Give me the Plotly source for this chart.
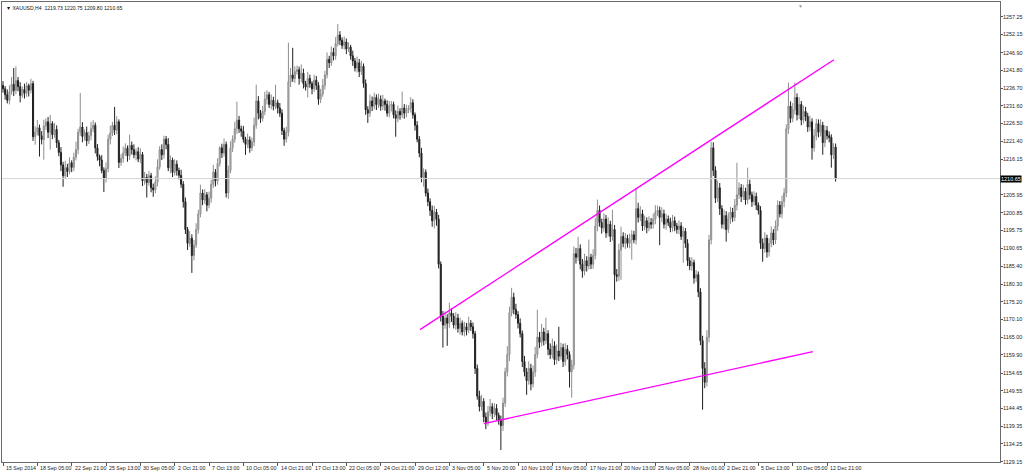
import plotly.graph_objects as go

# XAUUSD H4 closes (oldest first)
closes = [
    1236.5, 1234.8, 1233.2, 1235.6, 1237.8, 1236.0, 1238.9, 1237.1, 1234.6, 1236.3,
    1235.2, 1237.4, 1236.1, 1238.0, 1222.7, 1224.1, 1225.3, 1223.0, 1221.9, 1225.8,
    1227.0, 1224.0, 1226.5, 1223.3, 1224.8, 1221.0, 1218.2, 1214.6, 1211.5, 1213.8,
    1212.7, 1215.2, 1213.9, 1216.8, 1219.0, 1224.0, 1225.5, 1222.8, 1223.9, 1221.5,
    1223.0, 1225.0, 1226.0, 1219.5, 1217.0, 1216.0, 1213.0, 1210.8, 1213.5, 1222.0,
    1223.8, 1226.0, 1224.6, 1227.0, 1215.3, 1216.5, 1218.0, 1219.4, 1217.2, 1220.2,
    1219.0, 1217.5, 1218.4, 1216.3, 1217.6, 1210.0, 1211.0, 1209.5, 1211.5, 1208.0,
    1207.4, 1209.6, 1214.0, 1219.0, 1217.5, 1222.0, 1220.5, 1213.8, 1216.0, 1212.4,
    1214.8, 1213.0, 1211.6, 1209.0, 1204.0, 1196.0, 1192.0, 1193.5, 1188.5, 1191.5,
    1196.0, 1200.5, 1206.5, 1204.5, 1206.0, 1203.0, 1205.0, 1209.0, 1212.5, 1210.0,
    1215.0, 1219.5, 1218.0, 1220.5, 1206.5, 1213.0, 1219.5, 1222.0, 1225.0, 1227.5,
    1225.0, 1224.3, 1222.0, 1220.5, 1221.8, 1219.5, 1221.2, 1226.0, 1233.0, 1229.5,
    1228.0, 1230.0, 1233.5, 1234.8, 1232.0, 1233.2, 1231.5, 1232.5, 1231.0, 1229.5,
    1224.5, 1222.0, 1224.0, 1238.5, 1240.5, 1239.5, 1241.5, 1242.0, 1239.5, 1241.0,
    1238.0, 1237.0, 1239.5, 1238.0, 1236.5, 1239.0, 1237.5, 1233.5, 1235.0, 1237.5,
    1240.5, 1245.0, 1244.0, 1247.0, 1246.0, 1249.5, 1252.0, 1250.5, 1249.0, 1250.0,
    1248.0, 1248.5, 1246.0, 1244.5, 1242.5, 1244.0, 1241.5, 1243.0, 1238.0, 1230.5,
    1229.5, 1233.0, 1231.5, 1234.0, 1232.0, 1233.5, 1231.5, 1233.0, 1232.0, 1229.5,
    1231.5, 1232.0, 1229.0, 1228.0, 1230.0, 1229.0, 1231.0, 1229.5, 1230.5, 1231.0,
    1232.5, 1229.0, 1226.0, 1222.0, 1218.0, 1211.0, 1212.5, 1206.5, 1204.0, 1201.5,
    1198.5, 1201.0, 1199.0, 1186.0, 1171.0, 1168.5, 1170.5, 1169.0, 1172.0, 1171.0,
    1168.5, 1170.5, 1167.5, 1169.0, 1166.5, 1168.0, 1167.0, 1169.0, 1168.0, 1166.0,
    1156.0, 1148.0, 1145.0, 1146.5, 1142.0, 1140.5, 1143.5, 1145.0, 1143.0, 1144.5,
    1142.5, 1141.0, 1139.5, 1146.0, 1155.0, 1160.0, 1172.0, 1176.5, 1173.0, 1171.5,
    1169.0, 1166.0, 1158.0, 1155.0, 1152.5, 1156.0, 1151.5, 1155.0, 1160.0, 1165.0,
    1163.5, 1166.5, 1164.0, 1166.0, 1161.5, 1160.0, 1162.5, 1158.5, 1161.0, 1159.5,
    1162.0, 1158.0, 1161.5, 1160.0, 1155.0, 1157.0, 1189.0, 1188.0, 1190.5, 1186.0,
    1184.0, 1187.0, 1185.5, 1188.0, 1186.0, 1188.5, 1197.0, 1201.5, 1198.0, 1196.5,
    1199.0, 1195.0, 1197.5, 1194.0, 1196.0, 1183.0, 1182.5, 1190.0, 1194.0, 1192.0,
    1193.5, 1192.0, 1193.0, 1194.5, 1193.0, 1202.0, 1199.5, 1200.5, 1197.0, 1198.5,
    1196.5, 1198.0, 1197.5, 1199.0, 1201.0, 1201.5, 1199.5, 1200.5, 1197.5, 1199.0,
    1198.0, 1196.5, 1198.5, 1197.0, 1196.0, 1197.0, 1194.0, 1195.5, 1192.0, 1187.0,
    1185.5, 1186.5, 1182.0, 1183.0, 1178.0, 1164.0, 1156.0, 1152.0, 1165.0, 1193.0,
    1219.5, 1213.0, 1205.0, 1208.0, 1202.0, 1197.5, 1200.0, 1196.0, 1199.0, 1201.0,
    1199.5, 1203.0, 1206.0, 1208.0, 1205.5, 1207.0, 1204.5, 1209.0, 1206.0, 1204.0,
    1205.5, 1203.0, 1201.5, 1192.0, 1190.5, 1193.5, 1189.5, 1192.0, 1195.0, 1193.0,
    1197.0, 1203.0, 1200.5, 1204.0, 1206.5, 1225.0, 1231.5, 1228.0, 1230.5, 1234.0,
    1229.0, 1232.0, 1227.5, 1230.0, 1228.5, 1225.5, 1227.0, 1219.5, 1223.0, 1226.5,
    1224.0, 1226.0, 1221.0, 1224.5, 1223.0, 1222.5, 1217.5, 1219.73, 1210.65,
]
first_open = 1237.5

# wick lengths above / below the candle body
upper_wick = [
    1.2, 0.8, 1.5, 1.9, 2.1, 4.7, 4.1, 1.0, 1.3, 0.9, 1.7, 1.1, 0.6, 1.4, 0.8, 1.6, 2.2, 0.9, 1.3, 1.8,
    1.0, 1.4, 2.5, 0.7, 1.9, 1.2, 0.8, 1.5, 0.9, 2.0, 1.1, 1.6, 0.7, 1.3, 2.3, 1.0, 9.8, 1.4, 0.9, 1.7,
    1.2, 2.0, 1.5, 0.8, 1.1, 0.6, 1.4, 0.9, 1.8, 1.3, 2.1, 1.0, 5.3, 1.6, 0.7, 1.2, 1.9, 1.4, 0.8, 3.1,
    1.1, 1.5, 0.9, 1.3, 1.8, 0.7, 1.6, 1.0, 1.4, 0.8, 1.2, 1.7, 2.2, 1.0, 1.5, 1.0, 0.9, 1.8, 1.3, 0.7,
    1.4, 1.1, 0.8, 1.6, 0.9, 1.2, 0.7, 2.0, 1.1, 1.5, 1.8, 1.2, 2.4, 1.0, 1.6, 0.8, 1.9, 1.3, 2.1, 0.9,
    1.5, 0.5, 1.2, 1.7, 0.8, 1.4, 1.9, 1.1, 2.0, 5.3, 1.2, 0.9, 1.5, 0.7, 1.8, 1.0, 1.3, 2.2, 4.7, 1.4,
    0.9, 1.6, 2.2, 1.3, 0.8, 1.7, 1.0, 5.2, 0.9, 1.4, 1.1, 0.8, 1.6, 11.3, 2.0, 7.8, 1.5, 1.2, 0.9, 2.5,
    1.3, 0.8, 1.9, 1.1, 0.7, 1.6, 1.2, 0.9, 1.5, 1.8, 1.2, 2.0, 1.0, 1.7, 1.3, 1.9, 3.2, 1.1, 0.8, 1.6,
    1.0, 1.4, 0.7, 1.5, 0.9, 1.8, 1.1, 1.6, 0.8, 1.2, 1.0, 1.9, 1.3, 1.4, 0.9, 1.6, 1.1, 1.8, 0.7, 1.2,
    1.5, 1.0, 0.8, 1.3, 1.7, 0.9, 4.7, 1.1, 1.4, 0.8, 1.6, 1.0, 0.7, 1.2, 0.9, 1.5, 1.1, 0.8, 1.3, 1.0,
    1.4, 1.8, 0.9, 1.2, 0.8, 1.5, 1.9, 1.1, 2.9, 1.3, 0.9, 1.7, 1.2, 1.6, 0.8, 1.4, 1.1, 1.9, 0.9, 1.2,
    0.8, 1.1, 1.6, 1.9, 0.9, 1.3, 1.7, 2.2, 1.0, 1.5, 1.2, 0.8, 1.4, 1.6, 1.2, 2.4, 1.8, 2.7, 1.3, 1.6,
    1.0, 1.4, 0.9, 1.6, 1.1, 2.0, 1.3, 1.8, 2.2, 7.9, 1.5, 2.3, 1.2, 4.6, 1.0, 1.7, 2.1, 1.3, 1.9, 7.0,
    1.4, 1.1, 1.8, 1.2, 0.9, 1.5, 2.1, 1.7, 3.4, 1.2, 1.5, 2.0, 1.3, 5.1, 1.0, 1.8, 2.3, 3.1, 1.4, 1.1,
    1.7, 1.2, 2.0, 1.0, 5.7, 1.3, 1.6, 1.9, 2.8, 1.2, 1.5, 1.0, 1.8, 1.3, 1.1, 6.0, 1.7, 2.2, 1.2, 1.5,
    1.0, 1.8, 1.3, 1.6, 2.0, 1.4, 1.1, 1.9, 1.2, 1.5, 1.0, 1.4, 1.7, 1.2, 0.9, 1.6, 1.1, 1.3, 0.9, 1.2,
    1.0, 1.5, 0.8, 1.3, 0.9, 1.1, 1.4, 1.8, 2.0, 1.5, 1.8, 1.6, 1.2, 2.1, 1.4, 1.0, 1.7, 1.3, 1.9, 1.5,
    1.2, 1.8, 9.2, 1.6, 1.1, 1.9, 1.0, 4.8, 1.3, 0.9, 1.5, 1.1, 0.8, 1.2, 1.4, 1.7, 1.0, 1.5, 1.9, 1.1,
    1.6, 1.4, 1.2, 1.8, 1.5, 1.3, 6.8, 1.4, 1.9, 4.3, 1.2, 2.1, 1.0, 1.7, 1.3, 1.1, 1.8, 1.0, 1.9, 1.4,
    1.2, 1.7, 1.0, 1.5, 1.3, 1.2, 0.9, 1.1, 1.02,
]
lower_wick = [
    1.1, 1.4, 0.9, 1.2, 0.8, 1.6, 1.0, 1.3, 2.0, 0.7, 1.5, 1.0, 1.8, 0.9, 1.2, 2.3, 1.0, 6.0, 1.4, 5.8,
    1.2, 1.7, 5.0, 1.3, 0.9, 1.5, 1.1, 1.8, 3.2, 1.0, 1.6, 0.8, 1.4, 1.1, 0.9, 1.3, 1.0, 1.7, 1.2, 1.5,
    0.9, 1.3, 1.0, 1.6, 1.2, 1.8, 0.8, 4.0, 1.3, 1.0, 1.5, 0.9, 1.4, 1.1, 1.6, 1.0, 1.3, 0.8, 1.7, 1.2,
    1.4, 1.0, 1.6, 0.9, 1.2, 1.5, 1.1, 4.3, 0.9, 1.3, 2.0, 1.0, 1.2, 0.8, 1.5, 1.1, 1.4, 1.0, 1.6, 1.3,
    0.9, 1.5, 1.2, 1.0, 1.7, 1.3, 1.9, 1.0, 5.0, 1.4, 0.8, 1.2, 1.0, 1.5, 1.1, 1.8, 0.9, 1.3, 1.0, 1.6,
    1.1, 0.9, 1.4, 1.0, 1.3, 1.7, 0.8, 1.2, 1.0, 1.5, 1.2, 1.6, 1.0, 3.0, 1.1, 1.4, 0.9, 1.2, 1.0, 1.8,
    1.3, 0.9, 1.1, 1.5, 1.0, 1.4, 1.2, 0.8, 1.6, 1.1, 1.3, 1.9, 1.0, 1.2, 1.5, 1.0, 1.3, 0.9, 1.8, 1.1,
    1.4, 1.0, 3.0, 1.2, 1.6, 0.9, 1.3, 1.6, 1.1, 0.8, 1.2, 1.0, 1.5, 0.9, 1.3, 1.1, 0.8, 1.4, 1.0, 1.2,
    1.5, 0.9, 1.1, 1.4, 1.0, 1.3, 1.6, 1.0, 1.2, 1.5, 2.8, 1.1, 1.4, 0.9, 1.6, 1.0, 1.3, 1.1, 1.8, 1.0,
    1.2, 1.5, 1.0, 5.3, 1.1, 1.4, 0.9, 1.6, 1.2, 1.0, 1.3, 1.1, 1.5, 0.9, 1.2, 1.4, 2.7, 1.0, 1.3, 1.6,
    1.7, 2.2, 1.9, 1.2, 1.5, 6.5, 1.1, 6.5, 1.3, 1.6, 1.0, 1.4, 1.2, 1.8, 1.0, 1.3, 1.5, 0.9, 1.2, 1.4,
    1.6, 1.0, 1.4, 1.2, 1.5, 2.0, 1.1, 1.3, 1.6, 1.0, 1.4, 1.2, 7.0, 1.5, 1.1, 1.3, 1.9, 1.0, 1.4, 1.2,
    1.5, 1.1, 1.6, 1.3, 4.1, 1.2, 1.8, 1.0, 1.4, 1.1, 1.6, 1.2, 1.4, 1.0, 1.7, 1.3, 1.1, 1.5, 1.2, 1.4,
    1.0, 1.6, 1.2, 1.4, 4.5, 7.4, 1.3, 1.8, 1.1, 1.5, 1.9, 1.2, 1.6, 1.0, 1.4, 1.3, 1.1, 1.5, 1.2, 1.7,
    1.1, 1.4, 1.0, 1.6, 1.2, 7.2, 1.5, 1.3, 8.5, 1.1, 1.6, 1.2, 1.4, 5.7, 1.0, 1.3, 1.5, 1.1, 1.4, 1.2,
    1.6, 1.0, 1.3, 1.2, 1.5, 1.1, 8.0, 1.4, 1.2, 1.6, 1.0, 1.3, 1.1, 1.5, 1.2, 1.4, 1.0, 7.6, 1.3, 1.5,
    1.2, 1.4, 1.6, 1.1, 1.5, 1.3, 11.9, 1.7, 1.2, 1.5, 1.3, 1.6, 1.4, 1.1, 1.8, 1.2, 1.5, 3.5, 1.0, 1.4,
    1.3, 1.1, 1.5, 1.2, 1.6, 1.0, 1.4, 1.2, 1.3, 1.5, 1.1, 1.4, 1.2, 1.6, 3.8, 1.2, 1.6, 1.3, 1.1, 1.5,
    1.2, 1.4, 1.0, 1.3, 1.6, 1.2, 1.5, 1.3, 1.1, 1.4, 1.6, 1.2, 1.5, 1.0, 1.3, 1.4, 1.2, 3.4, 1.1, 1.3,
    1.5, 1.2, 3.5, 1.3, 1.1, 1.4, 3.7, 1.2, 0.85,
]

# time axis labels, one every 16 bars
time_labels = [
    "15 Sep 2014", "18 Sep 05:00", "22 Sep 21:00", "25 Sep 13:00", "30 Sep 05:00",
    "2 Oct 21:00", "7 Oct 13:00", "10 Oct 05:00", "14 Oct 21:00", "17 Oct 13:00",
    "22 Oct 05:00", "24 Oct 21:00", "29 Oct 12:00", "3 Nov 05:00", "5 Nov 20:00",
    "10 Nov 13:00", "13 Nov 05:00", "17 Nov 21:00", "20 Nov 13:00", "25 Nov 05:00",
    "28 Nov 01:00", "2 Dec 21:00", "5 Dec 13:00", "10 Dec 05:00", "12 Dec 21:00",
]
time_label_bars = [16 * k for k in range(len(time_labels))]

price_ticks = [
    1257.25, 1252.15, 1246.90, 1241.80, 1236.70, 1231.60, 1226.50, 1221.40, 1216.15,
    1205.95, 1200.85, 1195.75, 1190.65, 1185.40, 1180.30, 1175.20, 1170.10, 1165.00,
    1159.90, 1154.65, 1149.55, 1144.45, 1139.35, 1134.25, 1129.15,
]
bid_price = 1210.65

# hand-drawn trend lines (bar index, price)
upper_line_bars = [194.3, 387.2]
upper_line_prices = [1167.15, 1244.87]
lower_line_bars = [224.1, 377.4]
lower_line_prices = [1140.09, 1160.82]

assert len(closes) == len(upper_wick) == len(lower_wick), (len(closes), len(upper_wick), len(lower_wick))

bars = list(range(len(closes)))
opens = [first_open] + closes[:-1]
highs = [max(o, c) + w for o, c, w in zip(opens, closes, upper_wick)]
lows = [min(o, c) - w for o, c, w in zip(opens, closes, lower_wick)]

FONT = "Liberation Sans"

fig = go.Figure()

# bid line
fig.add_trace(go.Scatter(
    x=[-5, 470], y=[bid_price, bid_price], mode="lines",
    line=dict(color="#d4d4d4", width=1), hoverinfo="skip", showlegend=False
))

fig.add_trace(go.Candlestick(
    x=bars, open=opens, high=highs, low=lows, close=closes,
    increasing=dict(line=dict(color="#8e8e8e", width=1), fillcolor="#c4c4c4"),
    decreasing=dict(line=dict(color="#202020", width=1), fillcolor="#202020"),
    whiskerwidth=0, showlegend=False
))

# trend lines
fig.add_trace(go.Scatter(
    x=upper_line_bars, y=upper_line_prices, mode="lines",
    line=dict(color="#ff00ff", width=1.4), hoverinfo="skip", showlegend=False
))
fig.add_trace(go.Scatter(
    x=lower_line_bars, y=lower_line_prices, mode="lines",
    line=dict(color="#ff00ff", width=1.4), hoverinfo="skip", showlegend=False
))

annotations = []
for b, lab in zip(time_label_bars, time_labels):
    annotations.append(dict(
        x=b, y=0, xref="x", yref="paper", text=lab, showarrow=False,
        xanchor="left", yanchor="top", yshift=-1, xshift=1,
        font=dict(family=FONT, size=5.3, color="#222222")
    ))

# symbol / OHLC header
annotations.append(dict(
    x=0, y=1, xref="paper", yref="paper", xanchor="left", yanchor="top",
    xshift=2, yshift=-1, showarrow=False,
    text="\u25bc XAUUSD,H4  1219.73 1220.75 1209.80 1210.65",
    font=dict(family=FONT, size=5.1, color="#111111")
))

# current price tag
annotations.append(dict(
    x=1, y=bid_price, xref="paper", yref="y", xanchor="left", yanchor="middle",
    showarrow=False, text=f"{bid_price:.2f}", bgcolor="#000000", borderpad=0,
    font=dict(family=FONT, size=5.5, color="#ffffff")
))

# chart shift marker
annotations.append(dict(
    x=0.7996, y=1, xref="paper", yref="paper", xanchor="center", yanchor="top",
    showarrow=False, text="\u25bc", yshift=1,
    font=dict(family=FONT, size=5, color="#9a9a9a")
))

fig.update_layout(
    width=1024, height=473,
    margin=dict(l=2, r=24, t=2, b=11),
    paper_bgcolor="white", plot_bgcolor="white",
    showlegend=False,
    annotations=annotations,
    xaxis=dict(
        range=[-0.47, 464.6], rangeslider=dict(visible=False),
        showgrid=False, zeroline=False,
        tickvals=time_label_bars, showticklabels=False,
        ticks="outside", ticklen=3, tickcolor="#555555",
        showline=True, linecolor="#6a6a6a", linewidth=1, mirror=True,
    ),
    yaxis=dict(
        range=[1129.05, 1261.5], side="right",
        showgrid=False, zeroline=False, automargin=False,
        tickvals=price_ticks, ticktext=[f"{v:.2f}" for v in price_ticks],
        ticks="outside", ticklen=2, tickcolor="#555555", ticklabelstandoff=-1,
        tickfont=dict(family=FONT, size=5.4, color="#222222"),
        showline=True, linecolor="#6a6a6a", linewidth=1, mirror=True,
    ),
)

# the page's default body margin would push the 1024px figure out of the window
fig.write_html(
    "out.html",
    config={"displayModeBar": False},
    post_script="document.body.style.margin='0';",
)
